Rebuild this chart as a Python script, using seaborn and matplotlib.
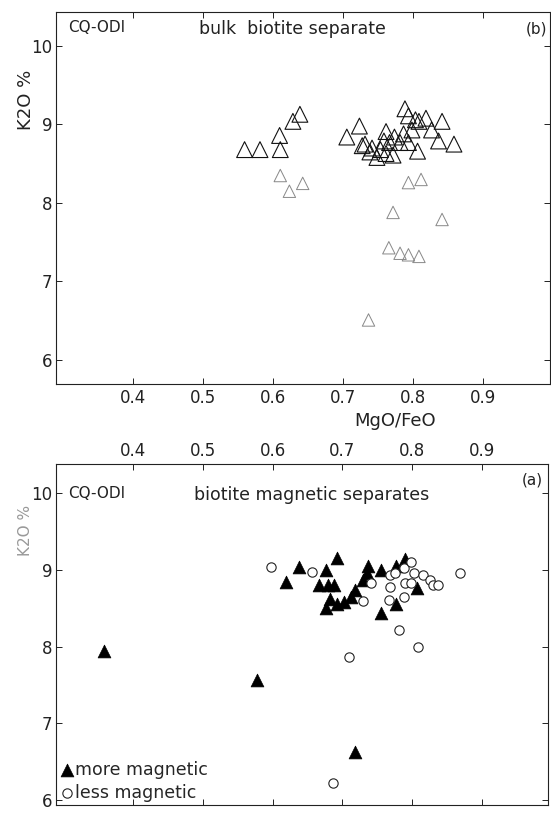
import matplotlib
matplotlib.use("Agg")
import matplotlib.pyplot as plt
import seaborn as sns
import pandas as pd

# ---- data: panel (b) bulk biotite separate ----
bulk_mgfe = [0.559, 0.581, 0.609, 0.610, 0.628, 0.638,
             0.705, 0.723, 0.727, 0.731, 0.738, 0.741, 0.748, 0.753, 0.758,
             0.761, 0.761, 0.766, 0.771, 0.773, 0.781, 0.786, 0.788, 0.793,
             0.793, 0.798, 0.803, 0.806, 0.808, 0.818, 0.826, 0.836, 0.841, 0.858]
bulk_k2o = [8.68, 8.68, 8.86, 8.68, 9.04, 9.13,
            8.84, 8.98, 8.73, 8.75, 8.65, 8.70, 8.58, 8.68, 8.79,
            8.91, 8.63, 8.77, 8.61, 8.84, 8.77, 8.88, 9.20, 9.11,
            8.77, 8.93, 9.06, 8.66, 9.04, 9.08, 8.93, 8.79, 9.04, 8.75]
faint_mgfe = [0.610, 0.623, 0.642, 0.771, 0.793, 0.811, 0.841,
              0.765, 0.781, 0.793, 0.808, 0.736]
faint_k2o = [8.35, 8.15, 8.25, 7.88, 8.26, 8.30, 7.79,
             7.43, 7.36, 7.34, 7.32, 6.51]

# ---- data: panel (a) biotite magnetic separates ----
more_mgfe = [0.359, 0.577, 0.718, 0.619, 0.638, 0.676, 0.666, 0.679, 0.688,
             0.683, 0.676, 0.693, 0.693, 0.702, 0.713, 0.718, 0.730, 0.735,
             0.737, 0.755, 0.755, 0.777, 0.777, 0.790, 0.807]
more_k2o = [7.95, 7.56, 6.63, 8.85, 9.04, 9.00, 8.80, 8.80, 8.80,
            8.62, 8.51, 9.16, 8.56, 8.58, 8.65, 8.74, 8.87, 8.96,
            9.05, 9.00, 8.44, 8.56, 9.05, 9.14, 8.76]
less_mgfe = [0.598, 0.657, 0.730, 0.741, 0.768, 0.768, 0.767, 0.781, 0.775,
             0.788, 0.799, 0.790, 0.788, 0.799, 0.802, 0.815, 0.825, 0.830,
             0.837, 0.869, 0.808, 0.709, 0.686]
less_k2o = [9.04, 8.97, 8.60, 8.83, 8.93, 8.78, 8.61, 8.22, 8.96,
            9.03, 9.10, 8.83, 8.65, 8.83, 8.96, 8.94, 8.87, 8.80,
            8.80, 8.96, 8.00, 7.86, 6.22]

x_ticks = [0.4, 0.5, 0.6, 0.7, 0.8, 0.9]
x_ticklabels = ["0.4", "0.5", "0.6", "0.7", "0.8", "0.9"]
y_ticks = [6, 7, 8, 9, 10]
y_ticklabels = ["6", "7", "8", "9", "10"]

sns.set_style("white")
plt.rcParams['font.family'] = ['DejaVu Sans']

fig = plt.figure(figsize=(5.51, 8.16), dpi=100)
axb = fig.add_axes([0.102, 0.529, 0.896, 0.456])
axa = fig.add_axes([0.102, 0.013, 0.893, 0.418])

XLIM = (0.29, 0.995)

def style_axes(ax, ylim):
    ax.set_xlim(*XLIM)
    ax.set_ylim(*ylim)
    ax.set_xticks(x_ticks)
    ax.set_yticks(y_ticks)
    ax.set_xticklabels(x_ticklabels)
    ax.set_yticklabels(y_ticklabels)
    for s in ax.spines.values():
        s.set_visible(True)
        s.set_color("#222222")
        s.set_linewidth(0.8)
    ax.tick_params(direction="in", length=4, width=0.7, colors="#222222",
                   labelsize=12, labelcolor="#222222", pad=3,
                   top=True, right=True, bottom=True, left=True)
    ax.set_xlabel("")
    ax.set_ylabel("")

# ---- panel (b) ----
df_b = pd.DataFrame({"MgO/FeO": bulk_mgfe, "K2O": bulk_k2o})
df_f = pd.DataFrame({"MgO/FeO": faint_mgfe, "K2O": faint_k2o})
sns.scatterplot(data=df_b, x="MgO/FeO", y="K2O", ax=axb, marker="^", s=130,
                facecolor="none", edgecolor="#111111", linewidth=0.8, legend=False)
sns.scatterplot(data=df_f, x="MgO/FeO", y="K2O", ax=axb, marker="^", s=80,
                facecolor="none", edgecolor="#888888", linewidth=0.7, legend=False)
style_axes(axb, (5.69, 10.43))
axb.tick_params(labeltop=False, labelbottom=True, labelleft=True, labelright=False)
axb.text(0.025, 0.98, "CQ-ODI", transform=axb.transAxes, ha="left", va="top",
         fontsize=11, color="#222222")
axb.text(0.29, 0.98, "bulk  biotite separate", transform=axb.transAxes,
         ha="left", va="top", fontsize=12.5, color="#222222")
axb.text(0.995, 0.975, "(b)", transform=axb.transAxes, ha="right", va="top",
         fontsize=11, color="#222222")
fig.text(0.047, 0.877, "K2O %", rotation=90, ha="center", va="center",
         fontsize=13, color="#222222")
fig.text(0.717, 0.484, "MgO/FeO", ha="center", va="center", fontsize=13,
         color="#222222")

# ---- panel (a) ----
df_m = pd.DataFrame({"MgO/FeO": more_mgfe, "K2O": more_k2o})
df_l = pd.DataFrame({"MgO/FeO": less_mgfe, "K2O": less_k2o})
sns.scatterplot(data=df_m, x="MgO/FeO", y="K2O", ax=axa, marker="^", s=85,
                color="black", edgecolor="black", linewidth=0.5,
                label="more magnetic")
sns.scatterplot(data=df_l, x="MgO/FeO", y="K2O", ax=axa, marker="o", s=45,
                facecolor="white", edgecolor="#222222", linewidth=0.8,
                label="less magnetic")
style_axes(axa, (5.93, 10.38))
axa.tick_params(labeltop=True, labelbottom=False, labelleft=True, labelright=False)
axa.text(0.025, 0.935, "CQ-ODI", transform=axa.transAxes, ha="left", va="top",
         fontsize=11, color="#222222")
axa.text(0.28, 0.935, "biotite magnetic separates", transform=axa.transAxes,
         ha="left", va="top", fontsize=12.5, color="#222222")
axa.text(0.99, 0.975, "(a)", transform=axa.transAxes, ha="right", va="top",
         fontsize=11, color="#222222")
fig.text(0.047, 0.35, "K2O %", rotation=90, ha="center", va="center",
         fontsize=11, color="#999999")
leg = axa.legend(loc="lower left", frameon=False, handletextpad=0.1,
                 borderaxespad=0.1, handlelength=0.8, fontsize=12.5,
                 labelspacing=0.3, borderpad=0.1)

fig.savefig("out.png", dpi=100)
